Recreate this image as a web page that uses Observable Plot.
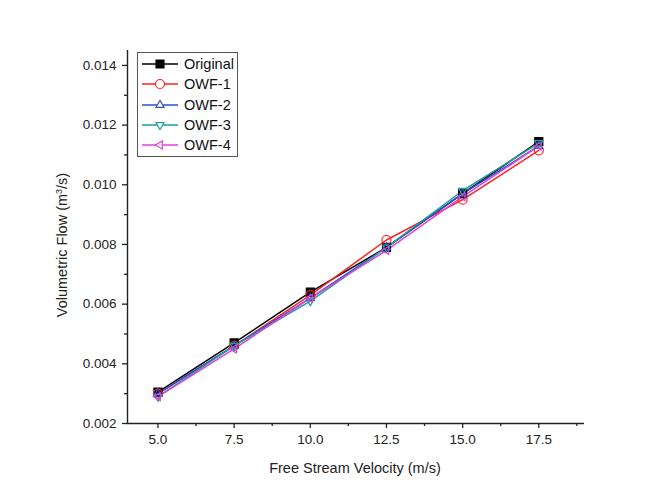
<!DOCTYPE html>
<html>
<head>
<meta charset="utf-8">
<script src="https://cdn.jsdelivr.net/npm/d3@7"></script>
<script src="https://cdn.jsdelivr.net/npm/@observablehq/plot@0.6"></script>
<style>
  html, body { margin: 0; padding: 0; background: #fff; }
  #chart { position: relative; width: 669px; height: 490px; font-family: "Liberation Sans", Arial, sans-serif; }
  #legend { position: absolute; left: 137px; top: 52px; border: 1px solid #555; background: #fff; padding: 1px 3px 1px 2px; }
  .item { display: flex; align-items: center; height: 20.3px; font-size: 14.5px; color: #111; }
  .item svg { margin-right: 4px; }
  .axis-title { position: absolute; font-size: 14.5px; color: #222; white-space: nowrap; }
  .axis-title sup { font-size: 9px; }
  #xtitle { left: 355px; top: 460px; transform: translateX(-50%); }
  #ytitle { left: 62px; top: 245px; transform: translate(-50%, -50%) rotate(-90deg); }
</style>
</head>
<body>
<div id="chart">
  <div id="legend"></div>
  <div class="axis-title" id="xtitle">Free Stream Velocity (m/s)</div>
  <div class="axis-title" id="ytitle">Volumetric Flow (m<sup>3</sup>/s)</div>
</div>
<script>
// Free stream velocity (m/s)
const velocity = [5.0, 7.5, 10.0, 12.5, 15.0, 17.5];

// Volumetric flow (m^3/s) per configuration
const original = [0.00305, 0.0047, 0.0064, 0.0079, 0.0097, 0.01145];
const owf1 = [0.0030, 0.0046, 0.0063, 0.00815, 0.0095, 0.01115];
const owf2 = [0.0030, 0.0046, 0.0062, 0.0079, 0.0097, 0.0113];
const owf3 = [0.0029, 0.0046, 0.0061, 0.0079, 0.0098, 0.0114];
const owf4 = [0.0029, 0.0045, 0.0062, 0.0078, 0.0096, 0.0113];

const seriesNames = ["Original", "OWF-1", "OWF-2", "OWF-3", "OWF-4"];
const seriesValues = [original, owf1, owf2, owf3, owf4];
const seriesColors = ["#000000", "#ff2020", "#2a4fd0", "#1c9e9e", "#e040e0"];

const xTicks = [5.0, 7.5, 10.0, 12.5, 15.0, 17.5];
const xMinor = [6.25, 8.75, 11.25, 13.75, 16.25, 18.75];
const yTicks = [0.002, 0.004, 0.006, 0.008, 0.010, 0.012, 0.014];
const yMinor = [0.003, 0.005, 0.007, 0.009, 0.011, 0.013];

// Triangle symbols pointing down and left (d3 only ships the upward one)
function triangleAt(angleDeg) {
  return {
    draw(context, size) {
      const R = Math.sqrt(size / (3 * Math.sqrt(3) / 4)) / Math.sqrt(3) * 1.15;
      const a0 = angleDeg * Math.PI / 180;
      for (let i = 0; i < 3; i++) {
        const a = a0 + i * 2 * Math.PI / 3;
        const px = R * Math.cos(a), py = R * Math.sin(a);
        if (i === 0) context.moveTo(px, py); else context.lineTo(px, py);
      }
      context.closePath();
    }
  };
}
const triUp = triangleAt(-90);
const triDown = triangleAt(90);
const triLeft = triangleAt(180);
const seriesSymbols = [d3.symbolSquare, d3.symbolCircle, triUp, triDown, triLeft];
const seriesFill = [true, false, false, false, false];

const rows = seriesNames.flatMap((name, i) =>
  velocity.map((v, j) => ({ series: name, v, q: seriesValues[i][j], idx: i }))
);

const marks = [
  Plot.ruleX([4], { stroke: "#222", strokeWidth: 1.4 }), Plot.ruleY([0.002], { stroke: "#222", strokeWidth: 1.4 }),
  Plot.axisX({ ticks: xTicks, tickFormat: d3.format(".1f"), tickSize: 5, tickPadding: 6, fontSize: 13.5, strokeWidth: 1.3, label: null }),
  Plot.axisX({ ticks: xMinor, tickSize: 3, tickFormat: () => "", strokeWidth: 1.3, label: null }),
  Plot.axisY({ ticks: yTicks, tickFormat: d3.format(".3f"), tickSize: 5, tickPadding: 6, fontSize: 13.5, strokeWidth: 1.3, label: null }),
  Plot.axisY({ ticks: yMinor, tickSize: 3, tickFormat: () => "", strokeWidth: 1.3, label: null })
];

seriesNames.forEach((name, i) => {
  const data = rows.filter(d => d.series === name);
  marks.push(Plot.line(data, { x: "v", y: "q", stroke: seriesColors[i], strokeWidth: 1.5 }));
});
seriesNames.forEach((name, i) => {
  const data = rows.filter(d => d.series === name);
  marks.push(Plot.dot(data, {
    x: "v", y: "q", symbol: () => seriesSymbols[i], r: 4.5,
    stroke: seriesColors[i], strokeWidth: 1.2,
    fill: seriesFill[i] ? seriesColors[i] : "none"
  }));
});

const chart = Plot.plot({
  width: 669,
  height: 490,
  marginLeft: 127,
  marginRight: 85,
  marginTop: 50,
  marginBottom: 67,
  style: { fontFamily: "Liberation Sans, Arial, sans-serif", fontSize: "14px", color: "#222", background: "white" },
  x: { domain: [4, 19] },
  y: { domain: [0.002, 0.0145] },
  symbol: { type: "identity" },
  marks
});
document.getElementById("chart").prepend(chart);

// Legend: line sample with marker, then series name
const legend = d3.select("#legend");
seriesNames.forEach((name, i) => {
  const item = legend.append("div").attr("class", "item");
  const svg = item.append("svg").attr("width", 40).attr("height", 18);
  svg.append("line").attr("x1", 2).attr("x2", 38).attr("y1", 9).attr("y2", 9)
    .attr("stroke", seriesColors[i]).attr("stroke-width", 1.5);
  svg.append("path").attr("transform", "translate(20,9)")
    .attr("d", d3.symbol(seriesSymbols[i], Math.PI * 4.5 * 4.5)())
    .attr("stroke", seriesColors[i]).attr("stroke-width", 1.2)
    .attr("fill", seriesFill[i] ? seriesColors[i] : "white");
  item.append("span").text(name);
});
</script>
</body>
</html>
